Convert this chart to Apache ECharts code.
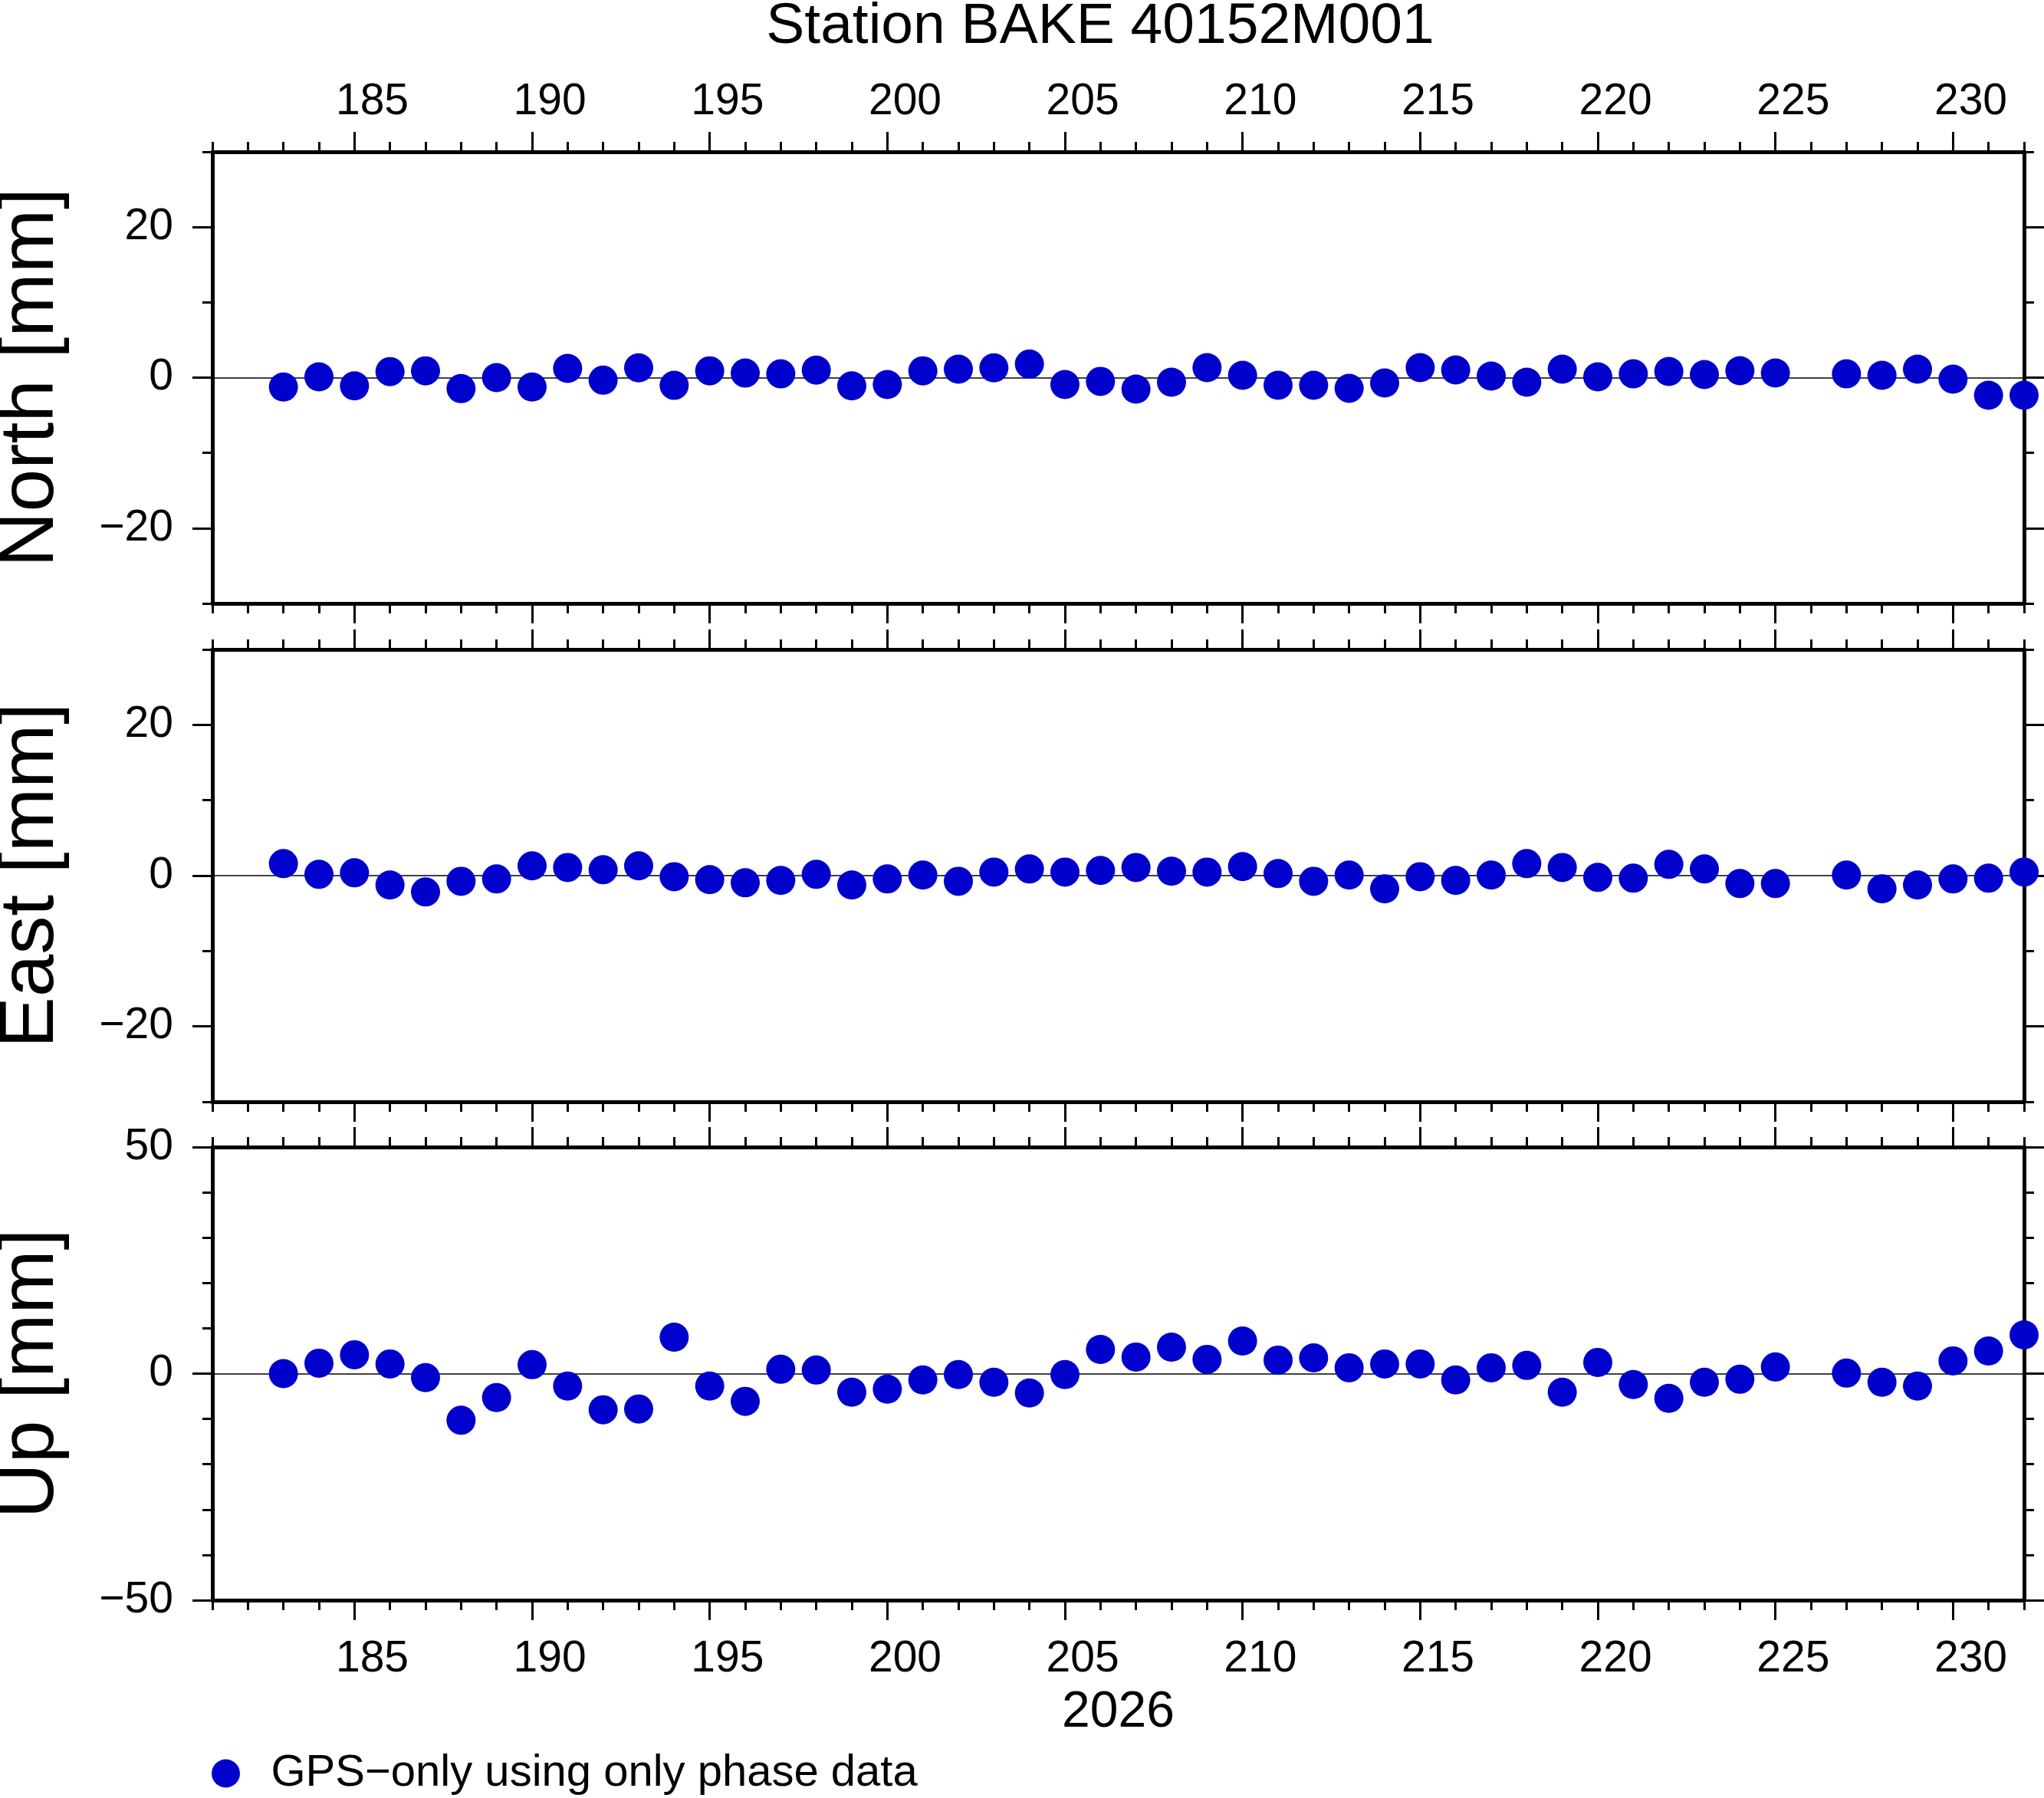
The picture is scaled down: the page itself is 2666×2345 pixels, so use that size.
<!DOCTYPE html>
<html>
<head>
<meta charset="utf-8">
<script src="https://cdn.jsdelivr.net/npm/echarts@6/dist/echarts.min.js"></script>
<style>
  html, body { margin: 0; padding: 0; background: #fff; }
  #chart { width: 2666px; height: 2345px; }
</style>
</head>
<body>
<div id="chart"></div>
<script>
// day of year
const days = [183, 184, 185, 186, 187, 188, 189, 190, 191, 192, 193, 194, 195, 196, 197, 198, 199, 200,
  201, 202, 203, 204, 205, 206, 207, 208, 209, 210, 211, 212, 213, 214, 215, 216, 217, 218, 219, 220,
  221, 222, 223, 224, 225, 227, 228, 229, 230, 231, 232];

// mm
const northValues = [-1.25, 0.1, -1.1, 0.8, 0.9, -1.46, 0.0, -1.25, 1.22, -0.34, 1.3, -1.03, 0.9, 0.6, 0.5, 1.0, -1.1, -0.92,
  0.9, 1.12, 1.3, 1.8, -0.92, -0.5, -1.53, -0.61, 1.32, 0.3, -1.02, -1.02, -1.42, -0.71, 1.32, 1.02, 0.2, -0.61, 1.12, 0.1,
  0.5, 0.81, 0.41, 0.92, 0.61, 0.5, 0.3, 1.12, -0.2, -2.34, -2.34];
const eastValues = [1.59, 0.17, 0.37, -1.25, -2.17, -0.75, -0.44, 1.29, 1.08, 0.78, 1.29, -0.14, -0.54, -0.95, -0.64, 0.17, -1.25, -0.44,
  0.07, -0.75, 0.47, 0.88, 0.47, 0.68, 1.08, 0.58, 0.47, 1.19, 0.27, -0.75, 0.07, -1.76, -0.14, -0.64, 0.07, 1.59, 1.08, -0.24,
  -0.34, 1.49, 0.88, -1.05, -1.05, 0.07, -1.76, -1.25, -0.44, -0.34, 0.47];
const upValues = [0.0, 2.3, 4.16, 2.13, -0.9, -10.3, -5.28, 1.97, -2.75, -7.98, -7.81, 8.03, -2.75, -6.12, 0.96, 0.79, -4.1, -3.43,
  -1.4, -0.22, -1.91, -4.27, -0.22, 5.34, 3.65, 5.84, 3.15, 7.19, 2.98, 3.48, 1.29, 2.13, 2.13, -1.4, 1.29, 1.8, -4.1, 2.47,
  -2.42, -5.45, -1.91, -1.24, 1.46, 0.11, -1.91, -2.75, 2.81, 5.0, 8.54];

const dayTicks = [185, 190, 195, 200, 205, 210, 215, 220, 225, 230];
const neTicks = [-20, 0, 20];
const upTicks = [-50, 0, 50];

const titleText = 'Station BAKE 40152M001';
const yearText = '2026';
const seriesName = 'GPS\u2212only using only phase data';
const panelNames = ['North [mm]', 'East [mm]', 'Up [mm]'];

const FONT = '"Liberation Sans", Arial, Helvetica, sans-serif';
const DOT = '#0000cc';
const frame = { color: '#000', width: 5 };
const tickLine = { color: '#000', width: 3 };

function fmtMinus(v) {
    return v < 0 ? '\u2212' + Math.abs(v) : String(v);
}

// 4 x axes per panel: bottom major/minor, top major/minor
function makeXAxes(g) {
    const base = { gridIndex: g, type: 'value', min: 181, max: 232, splitLine: { show: false } };
    const lbl = function (show, margin) {
        if (!show) return { show: false };
        return {
            show: true,
            customValues: dayTicks.map(function (d) { return d + 0.5; }),   // GMT puts day labels mid-interval
            formatter: function (v) { return String(Math.floor(v)); },
            fontSize: 57, lineHeight: 57, fontFamily: FONT, color: '#000', margin: margin
        };
    };
    const bottomMajor = Object.assign({}, base, {
        position: 'bottom',
        axisLine: { show: true, onZero: false, lineStyle: frame },
        axisTick: { show: true, customValues: dayTicks, length: 26, lineStyle: tickLine },
        axisLabel: lbl(g === 2, 49)
    });
    if (g === 2) {
        bottomMajor.name = yearText;
        bottomMajor.nameLocation = 'middle';
        bottomMajor.nameGap = 114;
        bottomMajor.nameMoveOverlap = false;
        bottomMajor.nameTextStyle = { fontSize: 66, lineHeight: 66, fontFamily: FONT, color: '#000' };
    }
    const topMajor = Object.assign({}, base, {
        position: 'top',
        axisLine: { show: true, onZero: false, lineStyle: frame },
        axisTick: { show: true, customValues: dayTicks, length: 26, lineStyle: tickLine },
        axisLabel: lbl(g === 0, 36)
    });
    const minor = function (pos) {
        return Object.assign({}, base, {
            position: pos, interval: 1,
            axisLine: { show: false, onZero: false },
            axisTick: { show: true, length: 13, lineStyle: tickLine },
            axisLabel: { show: false }
        });
    };
    return [bottomMajor, minor('bottom'), topMajor, minor('top')];
}

function makeYAxes(g, lo, hi, major) {
    const base = { gridIndex: g, type: 'value', min: lo, max: hi, splitLine: { show: false } };
    const leftMajor = Object.assign({}, base, {
        position: 'left',
        axisLine: { show: true, onZero: false, lineStyle: frame },
        axisTick: { show: true, customValues: major, length: 26, lineStyle: tickLine },
        axisLabel: {
            show: true, customValues: major, formatter: fmtMinus,
            fontSize: 57, lineHeight: 57, fontFamily: FONT, color: '#000', margin: 51
        },
        name: panelNames[g],
        nameLocation: 'middle',
        nameRotate: 90,
        nameGap: 186,
        nameMoveOverlap: false,
        nameTextStyle: { fontSize: 100, lineHeight: 100, fontFamily: FONT, color: '#000' }
    });
    const rightMajor = Object.assign({}, base, {
        position: 'right',
        axisLine: { show: true, onZero: false, lineStyle: frame },
        axisTick: { show: true, customValues: major, length: 26, lineStyle: tickLine },
        axisLabel: { show: false }
    });
    const minor = function (pos) {
        return Object.assign({}, base, {
            position: pos, interval: 10,
            axisLine: { show: false, onZero: false },
            axisTick: { show: true, length: 13, lineStyle: tickLine },
            axisLabel: { show: false }
        });
    };
    return [leftMajor, minor('left'), rightMajor, minor('right')];
}

function makeSeries(g, values) {
    return {
        name: seriesName,
        type: 'scatter',
        xAxisIndex: g * 4,
        yAxisIndex: g * 4,
        data: days.map(function (d, i) { return [d, values[i]]; }),
        symbol: 'circle',
        symbolSize: 38,
        clip: false,
        itemStyle: { color: DOT, opacity: 1 },
        emphasis: { disabled: true },
        markLine: {
            silent: true,
            z: 1,
            symbol: ['none', 'none'],
            label: { show: false },
            lineStyle: { color: '#000', width: 1.5, type: 'solid' },
            data: [{ yAxis: 0 }]
        }
    };
}

const grids = [
    { left: 277, right: 26, top: 198, height: 589, outerBoundsMode: 'none' },
    { left: 277, right: 26, top: 847, height: 590, outerBoundsMode: 'none' },
    { left: 277, right: 26, top: 1496, height: 591, outerBoundsMode: 'none' }
];

const option = {
    backgroundColor: '#fff',
    animation: false,
    title: {
        text: titleText,
        left: 1435,
        top: -3,
        padding: 0,
        textAlign: 'center',
        textStyle: { fontSize: 75, lineHeight: 76, fontWeight: 'normal', fontFamily: FONT, color: '#000' }
    },
    legend: {
        left: 276,
        top: 2284,
        padding: 0,
        icon: 'circle',
        itemWidth: 108,
        itemHeight: 37,
        selectedMode: false,
        textStyle: { fontSize: 58, lineHeight: 58, fontFamily: FONT, color: '#000' },
        data: [seriesName]
    },
    grid: grids,
    xAxis: [].concat(makeXAxes(0), makeXAxes(1), makeXAxes(2)),
    yAxis: [].concat(makeYAxes(0, -30, 30, neTicks), makeYAxes(1, -30, 30, neTicks), makeYAxes(2, -50, 50, upTicks)),
    series: [
        makeSeries(0, northValues),
        makeSeries(1, eastValues),
        makeSeries(2, upValues)
    ]
};

const myChart = echarts.init(document.getElementById('chart'));
myChart.setOption(option);
</script>
</body>
</html>
